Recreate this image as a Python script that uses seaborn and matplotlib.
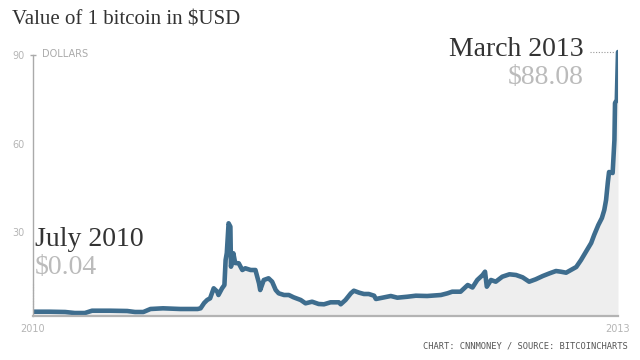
import pandas as pd
import seaborn as sns
import matplotlib
matplotlib.use("Agg")
import matplotlib.pyplot as plt

# values (chart scale), roughly weekly
dates = [
    "2010-07-17", "2010-08-14", "2010-09-09", "2010-09-25", "2010-10-12", "2010-10-24",
    "2010-11-23", "2010-12-22", "2011-01-04", "2011-01-18", "2011-01-30", "2011-02-20",
    "2011-03-21", "2011-04-19", "2011-04-24", "2011-04-30", "2011-05-05", "2011-05-10",
    "2011-05-16", "2011-05-22", "2011-05-24", "2011-05-30", "2011-06-03", "2011-06-05",
    "2011-06-07", "2011-06-10", "2011-06-13", "2011-06-14", "2011-06-18", "2011-06-21",
    "2011-06-27", "2011-07-03", "2011-07-08", "2011-07-17", "2011-07-25", "2011-07-31",
    "2011-08-02", "2011-08-08", "2011-08-16", "2011-08-22", "2011-08-28", "2011-09-02",
    "2011-09-11", "2011-09-19", "2011-09-27", "2011-10-09", "2011-10-17", "2011-10-28",
    "2011-11-08", "2011-11-17", "2011-11-28", "2011-12-12", "2011-12-15", "2011-12-23",
    "2012-01-01", "2012-01-06", "2012-01-15", "2012-01-23", "2012-01-31", "2012-02-09",
    "2012-02-12", "2012-02-23", "2012-03-08", "2012-03-19", "2012-04-05", "2012-04-19",
    "2012-05-08", "2012-05-31", "2012-06-11", "2012-06-19", "2012-07-03", "2012-07-15",
    "2012-07-23", "2012-07-31", "2012-08-09", "2012-08-13", "2012-08-16", "2012-08-23",
    "2012-08-31", "2012-09-11", "2012-09-23", "2012-10-04", "2012-10-15", "2012-10-26",
    "2012-11-06", "2012-11-18", "2012-11-29", "2012-12-10", "2012-12-18", "2012-12-27",
    "2013-01-04", "2013-01-13", "2013-01-21", "2013-01-29", "2013-02-07", "2013-02-12",
    "2013-02-19", "2013-02-25", "2013-03-01", "2013-03-04", "2013-03-07", "2013-03-09",
    "2013-03-15", "2013-03-18", "2013-03-19", "2013-03-22", "2013-03-24",
]
price = [
    3.14, 3.14, 3.04, 2.70, 2.70, 3.48,
    3.48, 3.38, 3.04, 3.04, 4.06, 4.29,
    4.06, 4.06, 4.29, 6.09, 7.10, 7.67,
    11.05, 9.91, 8.79, 11.05, 12.17, 20.62,
    22.99, 33.03, 31.88, 18.36, 22.89, 19.61,
    19.51, 17.24, 17.82, 17.24, 17.24, 12.75,
    10.48, 13.86, 14.44, 13.29, 10.48, 9.36,
    8.79, 8.79, 8.01, 7.10, 5.98, 6.52,
    5.75, 5.65, 6.32, 6.32, 5.65, 7.10,
    9.36, 10.24, 9.57, 9.13, 9.13, 8.55,
    7.44, 7.88, 8.45, 7.88, 8.21, 8.55,
    8.45, 8.79, 9.36, 9.91, 9.91, 12.17,
    11.33, 13.86, 15.55, 16.67, 11.60, 13.86,
    13.29, 14.98, 15.79, 15.55, 14.77, 13.29,
    14.10, 15.22, 16.10, 16.90, 16.67, 16.33,
    17.24, 18.26, 20.62, 23.33, 26.37, 29.07,
    32.45, 34.82, 37.53, 40.91, 46.99, 50.37,
    50.03, 61.19, 73.70, 74.71, 90.94,
]
ytick_vals = [30, 60, 90]
xtick_labels = ["2010", "2013"]

df = pd.DataFrame({"date": pd.to_datetime(dates), "price": price})

W, H = 640, 360
fig = plt.figure(figsize=(6.4, 3.6), dpi=100)
sns.set_style("white")
ax = fig.add_axes([33 / W, (H - 316) / H, 585 / W, (316 - 48) / H])

line_col = "#3e6d8e"
ax.fill_between(df["date"], 0, df["price"], color="#eeeeee", lw=0)
sns.lineplot(data=df, x="date", y="price", ax=ax, color=line_col, lw=3.3,
             solid_capstyle="round", solid_joinstyle="round")

x0, x1 = df["date"].iloc[0], df["date"].iloc[-1]
ax.set_xlim(x0, x1)
ax.set_ylim(1.69, 92.3)

for s in ["top", "right"]:
    ax.spines[s].set_visible(False)
ax.spines["left"].set_color("#aaaaaa")
ax.spines["left"].set_linewidth(1)
ax.spines["left"].set_bounds(1.69, 90)
ax.spines["bottom"].set_color("#b3b3b3")
ax.spines["bottom"].set_linewidth(1.6)

ax.set_yticks(ytick_vals)
ax.set_yticklabels([str(v) for v in ytick_vals])
ax.set_xticks([x0, x1])
ax.set_xticklabels(xtick_labels)
ax.tick_params(length=0, labelsize=7, labelcolor="#b5b5b5", pad=6)
for lbl in ax.get_yticklabels() + ax.get_xticklabels():
    lbl.set_family(["Liberation Sans Narrow", "DejaVu Sans"])
ax.set_xlabel("")
ax.set_ylabel("")
ax.grid(False)

# small T at the top of the axis
ax.plot([x0], [90], marker="_", ms=5, mew=1, color="#aaaaaa", clip_on=False)

# dotted leaders
ax.plot([x0, x0], [3.7, 12.8], ls=(0, (1, 1.5)), lw=0.8, color="#999999", clip_on=False)
ax.plot([x1 - pd.Timedelta(days=47), x1 - pd.Timedelta(days=5)], [price[-1], price[-1]],
        ls=(0, (1, 1.5)), lw=0.8, color="#999999", clip_on=False)

serif = ["Liberation Serif", "DejaVu Serif"]
fig.text(12 / W, 1 - 20 / H, "Value of 1 bitcoin in $USD", family=serif,
         fontsize=15, color="#333333", va="center", ha="left")
fig.text(42 / W, 1 - 54 / H, "DOLLARS", family=["Liberation Sans Narrow", "DejaVu Sans"],
         fontsize=7, color="#aaaaaa", va="center", ha="left")

fig.text(35 / W, 1 - 240 / H, "July 2010", family=serif, fontsize=20,
         color="#333333", va="center", ha="left")
fig.text(35 / W, 1 - 267 / H, "$0.04", family=serif, fontsize=20,
         color="#bbbbbb", va="center", ha="left")
fig.text(584 / W, 1 - 50 / H, "March 2013", family=serif, fontsize=20,
         color="#333333", va="center", ha="right")
fig.text(584 / W, 1 - 78 / H, "$88.08", family=serif, fontsize=20,
         color="#bbbbbb", va="center", ha="right")

fig.text(628 / W, 1 - 346 / H, "CHART: CNNMONEY / SOURCE: BITCOINCHARTS",
         family="DejaVu Sans Mono", fontsize=6.3, color="#555555", va="center", ha="right")

fig.savefig("out.png", dpi=100)
